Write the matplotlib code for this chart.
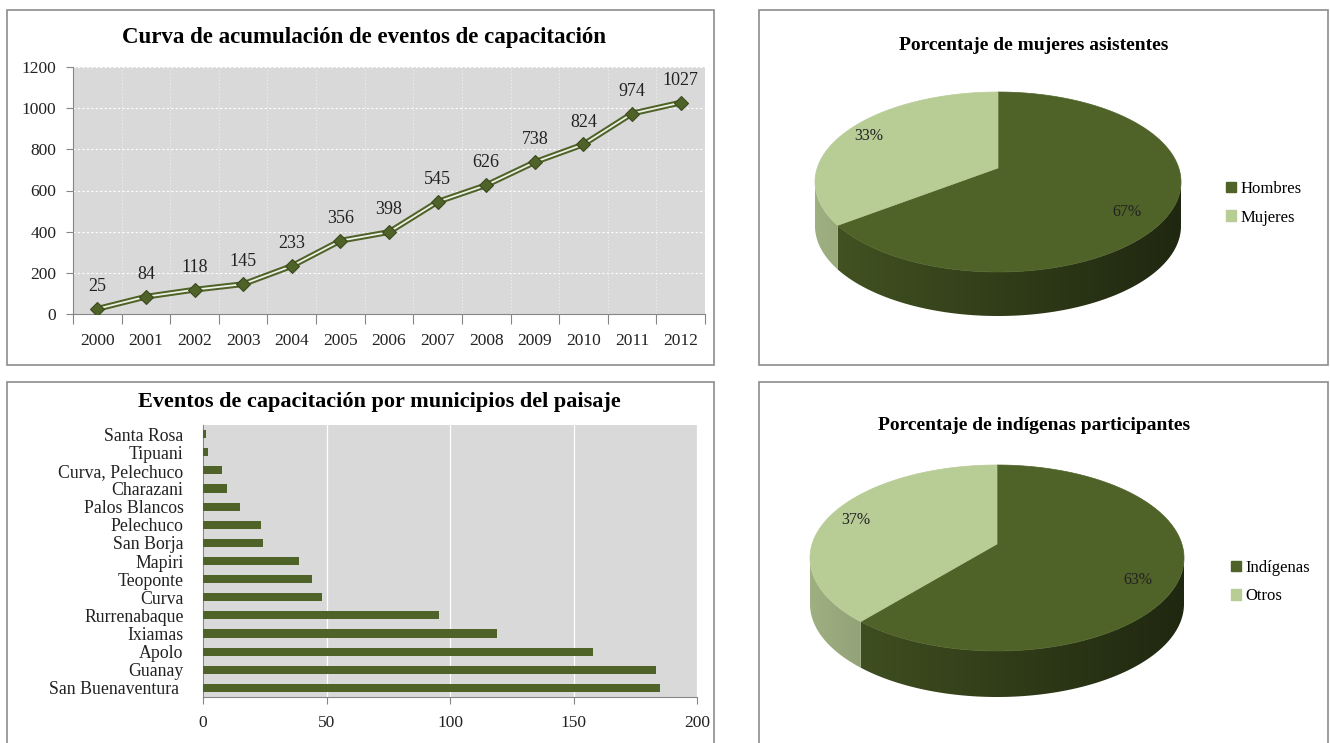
import matplotlib
matplotlib.use('Agg')
import matplotlib.pyplot as plt
import numpy as np
from matplotlib.patches import Rectangle, Polygon, Patch

# ---------------- data ----------------
years = ['2000', '2001', '2002', '2003', '2004', '2005', '2006', '2007', '2008', '2009', '2010', '2011', '2012']
cumulative = [25, 84, 118, 145, 233, 356, 398, 545, 626, 738, 824, 974, 1027]

municipios = ['Santa Rosa', 'Tipuani', 'Curva, Pelechuco', 'Charazani', 'Palos Blancos', 'Pelechuco',
              'San Borja', 'Mapiri', 'Teoponte', 'Curva', 'Rurrenabaque', 'Ixiamas', 'Apolo', 'Guanay',
              'San Buenaventura ']
eventos = [1.3, 2, 7.8, 9.7, 14.9, 23.4, 24.3, 39, 44, 48, 95.4, 119, 158, 183.3, 185]

genero_labels = ['Hombres', 'Mujeres']
genero_vals = [67, 33]
indig_labels = ['Indígenas', 'Otros']
indig_vals = [63, 37]

# ---------------- style ----------------
DARK = '#4F6228'
LIGHT = '#B8CC96'
BG = '#D9D9D9'
AXC = '#868686'
FONT = 'Liberation Serif'
plt.rcParams['font.family'] = [FONT, 'DejaVu Serif']

W, H = 1330, 743
fig = plt.figure(figsize=(W / 100, H / 100), dpi=100)


def axes_px(x0, y0, x1, y1):
    return fig.add_axes([x0 / W, 1 - y1 / H, (x1 - x0) / W, (y1 - y0) / H])


def border(x0, y0, x1, y1):
    fig.add_artist(Rectangle((x0 / W, 1 - y1 / H), (x1 - x0) / W, (y1 - y0) / H,
                             transform=fig.transFigure, fill=False, ec='#8C8C8C', lw=1.2))


def ftext(x, y, s, **kw):
    fig.text(x / W, 1 - y / H, s, **kw)


border(7, 10, 714, 365)
border(759, 10, 1328, 365)
border(7, 382, 714, 760)
border(759, 382, 1328, 760)

# ---------------- line chart ----------------
ax = axes_px(73, 67, 705, 314)
ax.set_facecolor(BG)
x = np.arange(len(years))
ax.plot(x, cumulative, color=DARK, lw=4.2, solid_joinstyle='round', zorder=3)
ax.plot(x, cumulative, color='#EEF1E6', lw=1.3, zorder=4)
ax.plot(x, cumulative, ls='none', marker='D', ms=7.5, mfc=DARK, mec='#3B4A1E', mew=0.8, zorder=5)
for xi, v in zip(x, cumulative):
    ax.annotate(str(v), (xi, v), xytext=(0, 10), textcoords='offset points',
                ha='center', va='bottom', fontsize=13, color='#222222')
ax.set_xlim(-0.5, len(years) - 0.5)
ax.set_ylim(0, 1200)
ax.set_yticks(np.arange(0, 1201, 200))
ax.set_xticks(np.arange(-0.5, len(years), 1.0))
ax.set_xticklabels([])
ax.set_xticks(x, minor=True)
ax.set_xticklabels(years, minor=True)
ax.tick_params(axis='x', which='major', length=7, color=AXC, direction='out')
ax.tick_params(axis='x', which='minor', length=0, pad=14, labelsize=12.5, labelcolor='#222222')
ax.tick_params(axis='y', length=5, color=AXC, pad=7, labelsize=12.5, labelcolor='#222222')
ax.grid(True, which='major', axis='y', color='white', ls=(0, (2, 2)), lw=0.8)
ax.grid(True, which='major', axis='x', color='#F2F2F2', ls=(0, (1.5, 2.5)), lw=0.6)
ax.set_axisbelow(True)
for s in ['top', 'right']:
    ax.spines[s].set_visible(False)
for s in ['left', 'bottom']:
    ax.spines[s].set_color(AXC)
ftext(364, 38, 'Curva de acumulación de eventos de capacitación', ha='center', va='center',
      fontsize=16.5, fontweight='bold')

# ---------------- bar chart ----------------
bx = axes_px(203, 425, 697, 697)
bx.set_facecolor(BG)
yb = np.arange(len(municipios))
bx.barh(yb, eventos, height=0.45, color=DARK, zorder=3)
bx.set_ylim(len(municipios) - 0.5, -0.5)
bx.set_xlim(0, 200)
bx.set_xticks(np.arange(0, 201, 50))
bx.set_yticks(yb)
bx.set_yticklabels(municipios)
bx.tick_params(axis='y', length=0, pad=14, labelsize=12.8, labelcolor='#222222')
bx.tick_params(axis='x', length=5, color=AXC, pad=8, labelsize=12.5, labelcolor='#222222')
bx.grid(True, axis='x', color='white', lw=0.9)
bx.set_axisbelow(True)
for s in ['top', 'right']:
    bx.spines[s].set_visible(False)
for s in ['left', 'bottom']:
    bx.spines[s].set_color(AXC)
ftext(379, 402, 'Eventos de capacitación por municipios del paisaje', ha='center', va='center',
      fontsize=16, fontweight='bold')


# ---------------- 3D pies ----------------
def pie3d(ax, vals, colors, cx, cy, a, b, depth, apex_dy, lab_r):
    total = float(sum(vals))
    start = 90.0
    slices = []
    for v, c in zip(vals, colors):
        span = 360.0 * v / total
        slices.append((start - span, start, c, v))
        start -= span

    def pt(t):
        r = np.radians(t)
        return cx + a * np.cos(r), cy - b * np.sin(r)

    # side walls with horizontal gradient (clipped image)
    xs = np.linspace(0, 1, 256)
    fac = 0.86 - 0.46 * xs
    for lo, hi, c, v in slices:
        base = np.array(matplotlib.colors.to_rgb(c))
        lo2 = lo % 360
        hi2 = lo2 + (hi - lo)
        for w0, w1 in [(180, 360), (540, 720)]:
            t1, t2 = max(lo2, w0), min(hi2, w1)
            if t2 <= t1:
                continue
            ts = np.linspace(t1, t2, 200)
            top = [pt(t) for t in ts]
            bot = [(px, py + depth) for px, py in top[::-1]]
            poly = Polygon(top + bot, closed=True, fc='none', ec='none')
            ax.add_patch(poly)
            grad = np.clip(fac[:, None] * base[None, :], 0, 1)[None, :, :]
            im = ax.imshow(grad, extent=(cx - a, cx + a, cy + b + depth + 2, cy - 2),
                           aspect='auto', interpolation='bilinear', zorder=1)
            im.set_clip_path(poly)
    # top faces
    for lo, hi, c, v in slices:
        ts = np.linspace(lo, hi, 200)
        pts = [pt(t) for t in ts]
        poly = Polygon([(cx, cy + apex_dy)] + pts, closed=True, fc=c, ec=c, lw=0.5, zorder=2)
        ax.add_patch(poly)
        mid = np.radians(0.5 * (lo + hi))
        lx = cx + lab_r * a * np.cos(mid)
        ly = cy - lab_r * b * np.sin(mid) - 8
        ax.text(lx, ly, f'{v:.0f}%', ha='center', va='center', fontsize=11.5, color='#222222', zorder=3)


def pie_panel(x0, y0, x1, y1, vals, labels, title, title_y, geom, leg_xy):
    pax = axes_px(x0, y0, x1, y1)
    pie3d(pax, vals, [DARK, LIGHT], *geom)
    pax.set_xlim(x0, x1)
    pax.set_ylim(y1, y0)
    pax.set_aspect('auto')
    pax.axis('off')
    ftext((x0 + x1) / 2 - 10, title_y, title, ha='center', va='center', fontsize=14, fontweight='bold')
    handles = [Patch(fc=DARK, ec=DARK), Patch(fc=LIGHT, ec=LIGHT)]
    fig.legend(handles, labels, loc='upper left', bbox_to_anchor=(leg_xy[0] / W, 1 - leg_xy[1] / H),
               frameon=False, fontsize=12, handlelength=0.6, handleheight=0.6,
               handletextpad=0.25, labelspacing=0.75, borderaxespad=0, borderpad=0)


pie_panel(760, 60, 1328, 364, genero_vals, genero_labels, 'Porcentaje de mujeres asistentes', 45,
          (998, 182, 183, 90, 44, -14, 0.82), (1226, 181))
pie_panel(760, 440, 1328, 742, indig_vals, indig_labels, 'Porcentaje de indígenas participantes', 425,
          (997, 558, 187, 93, 46, -14, 0.82), (1231, 560))

fig.savefig('out.png', dpi=100)
